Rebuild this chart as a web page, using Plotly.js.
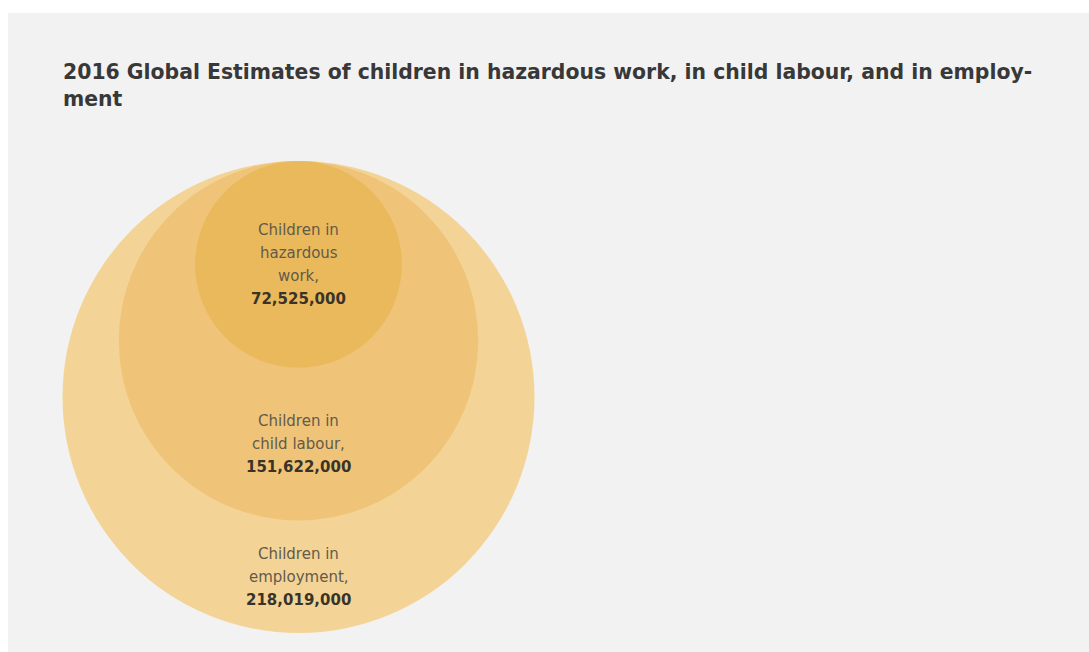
<!DOCTYPE html>
<html>
<head>
<meta charset="utf-8">
<script src="https://cdn.plot.ly/plotly-3.0.1.min.js"></script>
<style>
html,body{margin:0;padding:0;background:#ffffff;}
#chart{width:1089px;height:652px;}
</style>
</head>
<body>
<div id="chart"></div>
<script>
// ---- data ----
const categories = ["Children in employment", "Children in child labour", "Children in hazardous work"];
const labelLines = [["Children in", "employment,"], ["Children in", "child labour,"], ["Children in", "hazardous", "work,"]];
const values = [218019000, 151622000, 72525000];

// ---- layout / style ----
const W = 1089, H = 652;
const centerX = 298.5;       // horizontal centre of the nested circles (px)
const topY = 161;            // common tangent point at the top (px)
const maxRadius = 236;       // radius of the largest circle (px)
const radiusExponent = 0.75; // power scale: value -> radius
const lineGap = 23;          // label line spacing (px)
const fills = ["#f3d496", "#efc479", "#eab95b"];

const vmax = Math.max(...values);
const radiusOf = v => maxRadius * Math.pow(v / vmax, radiusExponent);

const shapes = [
  {type:"rect", xref:"paper", yref:"paper", x0:8/W, x1:1, y0:0, y1:1-13/H,
   fillcolor:"#f2f2f2", line:{width:0}, layer:"below"}
];
const annotations = [];
const radii = values.map(radiusOf);
values.forEach((v, i) => {
  const r = radii[i];
  shapes.push({type:"circle", xref:"x", yref:"y",
    x0:centerX - r, x1:centerX + r, y0:topY, y1:topY + 2*r,
    fillcolor:fills[i], line:{width:0}, layer:"above"});
});
values.forEach((v, i) => {
  const r = radii[i];
  const inner = i + 1 < values.length ? radii[i+1] : 0;
  const cy = topY + r + inner; // middle of the visible ring at the bottom
  const lines = labelLines[i].map(t => ({t, bold:false}))
    .concat([{t:v.toLocaleString("en-US"), bold:true}]);
  const n = lines.length;
  lines.forEach((ln, k) => {
    annotations.push({
      xref:"x", yref:"y", x:centerX, y:cy, xanchor:"center", yanchor:"middle",
      yshift: -((k - (n-1)/2) * lineGap),
      showarrow:false, align:"center",
      text: ln.bold ? "<b>" + ln.t + "</b>" : ln.t,
      font: ln.bold
        ? {family:"DejaVu Sans, sans-serif", size:15, color:"#3a3328"}
        : {family:"DejaVu Sans, sans-serif", size:15, color:"#645a4a"}
    });
  });
});

const data = [{x:[], y:[], type:"scatter", mode:"markers", hoverinfo:"skip", showlegend:false}];

const layout = {
  width:W, height:H,
  margin:{l:0, r:0, t:0, b:0},
  paper_bgcolor:"#ffffff", plot_bgcolor:"rgba(0,0,0,0)",
  showlegend:false,
  title:{
    text:"<b>2016 Global Estimates of children in hazardous work, in child labour, and in employ-</b><br><b>ment</b>",
    xref:"paper", yref:"paper", x:63/W, xanchor:"left", y:1-79/H, yanchor:"top",
    font:{family:"DejaVu Sans, sans-serif", size:20.4, color:"#383838"}
  },
  xaxis:{range:[0, W], visible:false, fixedrange:true},
  yaxis:{range:[H, 0], visible:false, fixedrange:true},
  shapes:shapes,
  annotations:annotations
};

Plotly.newPlot("chart", data, layout, {displayModeBar:false, staticPlot:true});
</script>
</body>
</html>
